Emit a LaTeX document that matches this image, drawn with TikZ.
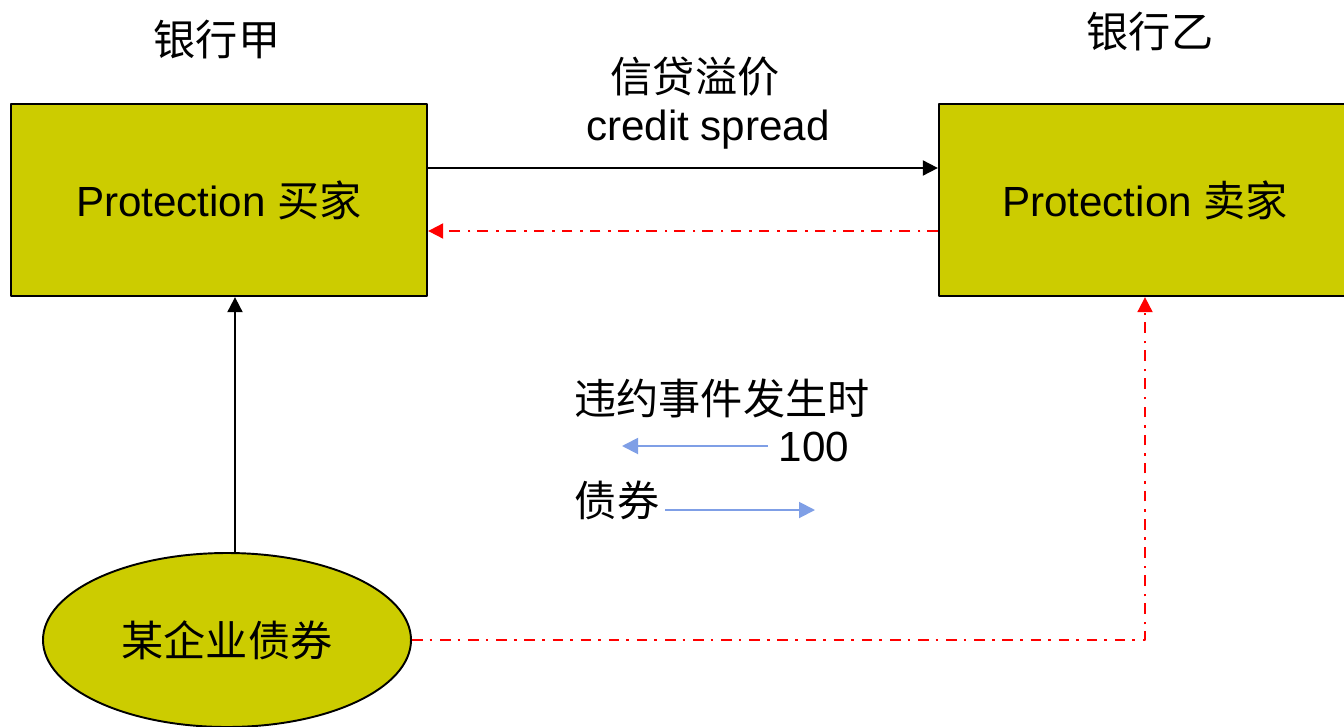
\documentclass[tikz,border=0pt]{standalone}
\usepackage{fontspec}
\setmainfont{Liberation Sans}
\newfontfamily\cjk{Noto Sans CJK SC}
\usetikzlibrary{arrows.meta,shapes.geometric}
\definecolor{olive}{HTML}{CCCC00}
\definecolor{lblue}{HTML}{7F9FE6}
\begin{document}
\begin{tikzpicture}[font=\fontsize{24}{28}\selectfont, line join=round, >={Triangle[length=.3cm,width=.3cm]},
	box/.style={draw, line width=1.3pt, fill=olive, minimum height=3.84cm, inner sep=0pt},
	blk/.style={->, line width=1.1pt},
	rdd/.style={->, red, line width=1.1pt, dash pattern=on 6pt off 4pt on 1.5pt off 4.5pt},
	blu/.style={->, lblue, line width=1.1pt, >={Triangle[length=.32cm,width=.32cm]}}]
	\useasboundingbox (0,0) rectangle (26.88,-14.52);
	% Hai ngân hàng
	\node[box, minimum width=8.32cm] (lb) at (4.38,-4) {Protection {\cjk 买家}};
	\node[box, minimum width=8.24cm] (rb) at (22.9,-4) {Protection {\cjk 卖家}};
	\node[draw, line width=1.1pt, fill=olive, ellipse, minimum width=7.36cm, minimum height=3.48cm, inner sep=0pt] (el) at (4.54,-12.8) {\cjk 某企业债券};
	\node (na) at (4.34,-0.8) {\cjk 银行甲};
	\node (nb) at (23.0,-0.64) {\cjk 银行乙};
	\node (cs) at (13.9,-1.54) {\cjk 信贷溢价};
	\node (ce) at (14.16,-2.6) {credit spread};
	% Mũi tên
	\draw[blk] ([yshift=.64cm]lb.east) -- ([yshift=.64cm]lb.east -| rb.west);
	\draw[rdd] ([yshift=-.62cm]rb.west) -- ([yshift=-.62cm]rb.west -| lb.east);
	\draw[blk] ([xshift=.16cm]el.north) -- ([xshift=.16cm]el.north |- lb.south);
	\draw[rdd] (el.east) -| (rb.south);
	% Chú thích
	\node (ev) at (14.44,-7.96) {\cjk 违约事件发生时};
	\node (hd) at (16.28,-8.94) {100};
	\node (bd) at (12.34,-10.0) {\cjk 债券};
	\coordinate (p1) at (12.44,-8.92);
	\coordinate (p2) at (16.3,-10.2);
	\draw[blu] ([xshift=-.1cm]hd.west |- p1) -- (p1);
	\draw[blu] (bd.east |- p2) -- (p2);
\end{tikzpicture}
\end{document}
